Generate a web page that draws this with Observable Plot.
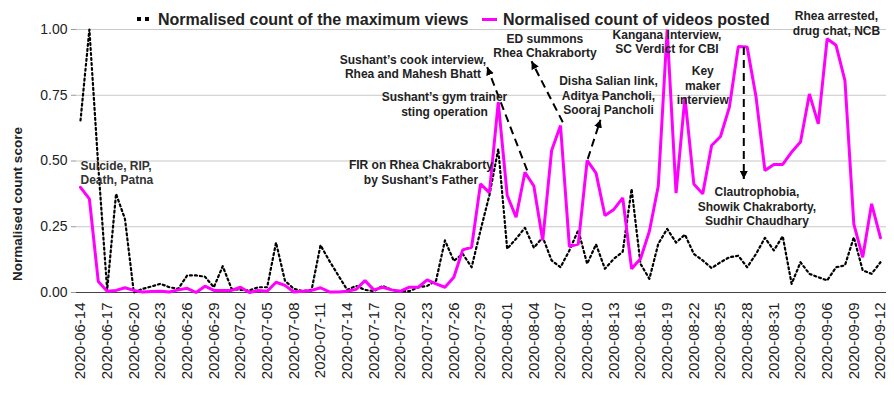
<!DOCTYPE html>
<html><head><meta charset="utf-8">
<script src="https://cdn.jsdelivr.net/npm/d3@7"></script>
<script src="https://cdn.jsdelivr.net/npm/@observablehq/plot@0.6"></script>
<style>
body{margin:0;background:#fff;}
#wrap{position:relative;width:894px;height:404px;}
.leg{position:absolute;top:11.5px;font:bold 16px "Liberation Sans",Arial,sans-serif;line-height:16px;color:#222;white-space:nowrap;}
.sq{position:absolute;width:4px;height:4px;background:#000;}
.mg{position:absolute;height:3px;background:#ff00ff;}
#ytitle{position:absolute;left:17.5px;top:203.5px;width:0;height:0;}
#ytitle span{position:absolute;transform:translate(-50%,-50%) rotate(-90deg);font:bold 13.5px "Liberation Sans",Arial,sans-serif;line-height:14px;color:#222;white-space:nowrap;}
</style></head><body><div id="wrap"></div>
<script>
const firstDay = "2020-06-14";
const lastDay = "2020-09-12";
const tickLabels = ["2020-06-14","2020-06-17","2020-06-20","2020-06-23","2020-06-26","2020-06-29","2020-07-02","2020-07-05","2020-07-08","2020-07-11","2020-07-14","2020-07-17","2020-07-20","2020-07-23","2020-07-26","2020-07-29","2020-08-01","2020-08-04","2020-08-07","2020-08-10","2020-08-13","2020-08-16","2020-08-19","2020-08-22","2020-08-25","2020-08-28","2020-08-31","2020-09-03","2020-09-06","2020-09-09","2020-09-12"];
const yTicks = [0, 0.25, 0.5, 0.75, 1];
const seriesNames = ["Normalised count of the maximum views", "Normalised count of videos posted"];
const yTitle = "Normalised count score";

const videosPosted = [0.40,0.356,0.042,0.005,0.008,0.018,0.008,0.002,0.004,0.005,
  0.002,0.01,0.016,0.0,0.024,0.008,0.008,0.008,0.02,0.0,
  0.008,0.005,0.039,0.027,0.002,0.005,0.008,0.018,0.002,0.002,
  0.005,0.012,0.045,0.01,0.02,0.01,0.005,0.02,0.02,0.048,
  0.033,0.02,0.058,0.162,0.172,0.413,0.38,0.724,0.37,0.286,
  0.457,0.405,0.198,0.54,0.635,0.175,0.184,0.502,0.454,0.293,
  0.316,0.36,0.09,0.128,0.233,0.405,1.0,0.378,0.743,0.413,
  0.375,0.559,0.593,0.705,0.935,0.933,0.743,0.464,0.487,0.487,
  0.534,0.572,0.755,0.641,0.965,0.94,0.806,0.26,0.134,0.337,
  0.208];
const maxViews = [0.654,1.0,0.48,0.01,0.375,0.28,0.0,0.014,0.023,0.033,
  0.02,0.014,0.065,0.065,0.06,0.02,0.10,0.014,0.01,0.008,
  0.02,0.02,0.19,0.045,0.014,0.005,0.01,0.18,0.12,0.065,
  0.01,0.025,0.01,0.005,0.025,0.01,0.005,0.005,0.02,0.025,
  0.045,0.198,0.12,0.147,0.096,0.236,0.37,0.546,0.166,0.204,
  0.246,0.17,0.21,0.122,0.096,0.16,0.237,0.109,0.183,0.09,
  0.128,0.155,0.394,0.109,0.052,0.185,0.242,0.19,0.22,0.147,
  0.122,0.093,0.115,0.134,0.14,0.096,0.147,0.208,0.16,0.214,
  0.033,0.115,0.071,0.058,0.046,0.096,0.103,0.21,0.084,0.071,
  0.115];

// annotations: day offset from first day, value on y
const notes = [
  {d: 37.4, v: 0.859, text: "Sushant’s cook interview,\nRhea and Mahesh Bhatt"},
  {d: 40.95, v: 0.717, text: "Sushant’s gym trainer\nsting operation"},
  {d: 52.25, v: 0.939, text: "ED summons\nRhea Chakraborty"},
  {d: 59.4, v: 0.751, text: "Disha Salian link,\nAditya Pancholi,\nSooraj Pancholi"},
  {d: 38.3, v: 0.458, text: "FIR on Rhea Chakraborty\nby Sushant’s Father"},
  {d: 65.98, v: 0.954, text: "Kangana Interview,\nSC Verdict for CBI"},
  {d: 70.0, v: 0.788, text: "Key\nmaker\ninterview"},
  {d: 76.1, v: 0.328, text: "Clautrophobia,\nShowik Chakraborty,\nSudhir Chaudhary"},
  {d: 85.05, v: 1.025, text: "Rhea arrested,\ndrug chat, NCB"}
];
const startNote = [{d: 0, v: 0.456, text: "Suicide, RIP,\nDeath, Patna"}];
const arrows = [
  {d1: 50.25, v1: 0.464, d2: 45.75, v2: 0.857},
  {d1: 54.26, v1: 0.6475, d2: 50.74, v2: 0.8795},
  {d1: 57.07, v1: 0.508, d2: 58.5, v2: 0.657},
  {d1: 74.62, v1: 0.933, d2: 74.62, v2: 0.432}
];

const DAY = 864e5;
const t0 = new Date(firstDay + "T00:00:00Z");
const at = d => new Date(+t0 + d * DAY);
const days = d3.utcDay.range(t0, d3.utcDay.offset(new Date(lastDay + "T00:00:00Z"), 1));
const data = days.map((date, i) => ({date, views: maxViews[i], videos: videosPosted[i]}));
const tickDates = tickLabels.map(s => new Date(s + "T00:00:00Z"));
const fmt = d3.utcFormat("%Y-%m-%d");

function triangleMarker(color, context) {
  const doc = (context && context.document) || document;
  const ns = "http://www.w3.org/2000/svg";
  const m = doc.createElementNS(ns, "marker");
  m.setAttribute("viewBox", "-8 -4 8 8");
  m.setAttribute("markerWidth", "8");
  m.setAttribute("markerHeight", "8");
  m.setAttribute("markerUnits", "userSpaceOnUse");
  m.setAttribute("orient", "auto");
  m.setAttribute("refX", "0");
  m.setAttribute("refY", "0");
  const p = doc.createElementNS(ns, "path");
  p.setAttribute("d", "M-8,-4L0,0L-8,4Z");
  p.setAttribute("fill", color);
  p.setAttribute("stroke", "none");
  m.appendChild(p);
  return m;
}

const font = "'Liberation Sans', Arial, sans-serif";
const chart = Plot.plot({
  width: 894, height: 404,
  marginLeft: 76, marginRight: 8, marginTop: 29, marginBottom: 112,
  style: {fontFamily: font, color: "#222", background: "#fff", overflow: "visible"},
  x: {type: "utc", domain: [at(-0.45), at(90.675)]},
  y: {domain: [0, 1]},
  marks: [
    Plot.ruleY(yTicks.filter(t => t > 0), {stroke: "#c8c8c8", strokeWidth: 1}),
    Plot.axisY({ticks: yTicks, tickFormat: d3.format(".2f"), tickSize: 5, tickPadding: 4, fontSize: 14, stroke: "#999", fill: "#222", label: null}),
    Plot.axisX({ticks: tickDates, tickFormat: fmt, tickSize: 0, tickPadding: 10, tickRotate: -90, fontSize: 15, fill: "#222", label: null}),
    Plot.ruleY([0], {stroke: "#444", strokeWidth: 1.2}),
    Plot.line(data, {x: "date", y: "views", stroke: "#000", strokeWidth: 2.2, strokeDasharray: "2,3"}),
    Plot.line(data, {x: "date", y: "videos", stroke: "#ff00ff", strokeWidth: 3, strokeLinejoin: "miter"}),
    Plot.link(arrows, {x1: d => at(d.d1), y1: "v1", x2: d => at(d.d2), y2: "v2", stroke: "#000", strokeWidth: 2, strokeDasharray: "8,5", markerEnd: triangleMarker}),
    Plot.text(notes, {x: d => at(d.d), y: "v", text: "text", fontSize: 12, fontWeight: "bold", lineHeight: 1.2, textAnchor: "middle", fill: "#222"}),
    Plot.text(startNote, {x: d => at(d.d), y: "v", text: "text", fontSize: 12, fontWeight: "bold", lineHeight: 1.2, textAnchor: "start", fill: "#333"})
  ]
});
const wrap = document.getElementById("wrap");
wrap.appendChild(chart);

// y-axis title
const yt = document.createElement("div"); yt.id = "ytitle";
const yts = document.createElement("span"); yts.textContent = yTitle; yt.appendChild(yts); wrap.appendChild(yt);

// legend overlay
const sq1 = document.createElement("div"); sq1.className = "sq"; sq1.style.left = "137px"; sq1.style.top = "17px"; wrap.appendChild(sq1);
const sq2 = document.createElement("div"); sq2.className = "sq"; sq2.style.left = "145px"; sq2.style.top = "17px"; wrap.appendChild(sq2);
const l1 = document.createElement("div"); l1.className = "leg"; l1.style.left = "158px"; l1.textContent = seriesNames[0]; wrap.appendChild(l1);
const mg = document.createElement("div"); mg.className = "mg"; mg.style.left = "482px"; mg.style.top = "18px"; mg.style.width = "15px"; wrap.appendChild(mg);
const l2 = document.createElement("div"); l2.className = "leg"; l2.style.left = "503px"; l2.textContent = seriesNames[1]; wrap.appendChild(l2);
</script>
</body></html>
